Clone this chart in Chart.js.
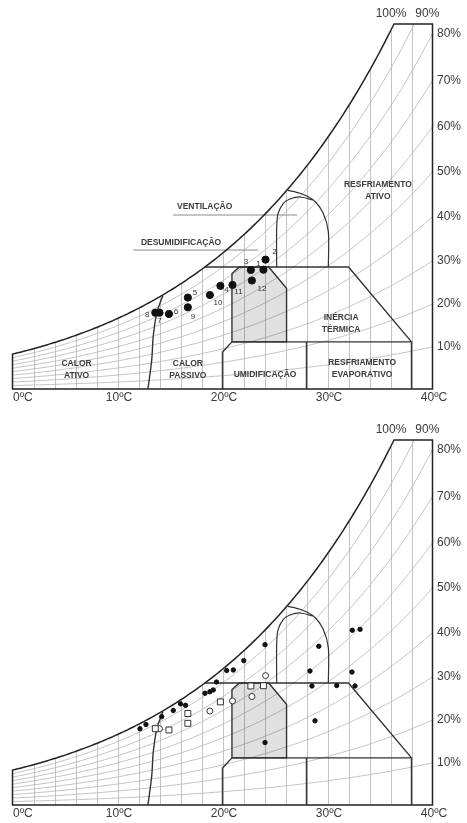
<!DOCTYPE html>
<html>
<head>
<meta charset="utf-8">
<script src="https://cdn.jsdelivr.net/npm/chart.js@4.4.1/dist/chart.umd.min.js"></script>
<style>
  html, body { margin: 0; padding: 0; background: #fff; }
  canvas { display: block; }
</style>
</head>
<body>
<canvas id="chartTop" width="467" height="416"></canvas>
<canvas id="chartBottom" width="467" height="407"></canvas>
<script>
// axes
const tempTicks = [0, 10, 20, 30, 40];
const rhLevels = [10, 20, 30, 40, 50, 60, 70, 80, 90];
const rhRightLabels = [10, 20, 30, 40, 50, 60, 70, 80];
const rhTopLabels = [100, 90];
const W_MAX = 39.5;   // g/kg at top of chart
const T_MAX = 40;

// monthly means (ºC, g/kg)
const months = ['1', '2', '3', '4', '5', '6', '7', '8', '9', '10', '11', '12'];
const meanTemp = [23.9, 24.1, 22.7, 19.8, 16.7, 14.9, 14.0, 13.6, 16.7, 18.8, 20.95, 22.8];
const meanHum = [12.91, 14.0, 12.88, 11.16, 9.9, 8.12, 8.26, 8.26, 8.84, 10.17, 11.26, 11.74];
const meanStyle = ['rect', 'circle', 'rect', 'rect', 'rect', 'rect', 'circle', 'rect', 'rect', 'circle', 'circle', 'circle'];

// bottom chart, other readings
const extraTemp = [32.36, 33.1, 29.17, 24.05, 22.03, 20.4, 21.03, 28.33, 32.33, 19.43, 18.33, 18.8,
                   19.12, 28.52, 30.88, 32.62, 16.0, 16.48, 15.31, 14.21, 12.71, 12.14, 28.81, 24.05];
const extraHum = [18.91, 19.01, 17.18, 17.35, 15.62, 14.56, 14.61, 14.5, 14.39, 13.31, 12.09, 12.26,
                  12.45, 12.88, 12.93, 12.88, 10.95, 10.79, 10.23, 9.56, 8.71, 8.25, 9.11, 6.76];

// zone boundaries [ºC, g/kg]
const comfortZone = [[20.9, 5.1], [20.9, 12.5], [21.6, 13.2], [24.4, 13.2], [26.1, 10.9], [26.1, 5.1], [20.9, 5.1]];
const lowerBand = [[20, 0], [20, 4.0], [20.9, 5.1], [38, 5.1], [38, 0]];
const evapDivider = [[28, 0], [28, 5.1]];
const inerciaLine = [[18.3, 13.2], [32, 13.2], [38, 5.1]];
const heatingCurve = [[12.9, 0], [13.26, 3.14], [13.4, 5.66], [13.73, 8.19], [14.1, 9.45], [14.33, 10.1]];
const ventInner = [[25.16, 13.2], [25.16, 17.56], [25.3, 19.0], [25.8, 20.1], [26.43, 20.56], [27.38, 20.78], [28.6, 20.45]];
const ventOuter = [[26.2, 21.5], [27.38, 21.18], [28.65, 20.45], [29.6, 19.0], [30.08, 17.0], [30.08, 13.2]];
const ventLeader = [[15.3, 18.83], [27.1, 18.83]];
const desumLeader = [[11.5, 15.04], [23.4, 15.04]];

const zoneLabels = [
  { lines: ['RESFRIAMENTO', 'ATIVO'], t: 34.8, w: 22.1 },
  { lines: ['INÉRCIA', 'TÉRMICA'], t: 31.3, w: 7.7 },
  { lines: ['CALOR', 'ATIVO'], t: 6.1, w: 2.7 },
  { lines: ['CALOR', 'PASSIVO'], t: 16.7, w: 2.7 },
  { lines: ['UMIDIFICAÇÃO'], t: 24.05, w: 1.6 },
  { lines: ['RESFRIAMENTO', 'EVAPORATIVO'], t: 33.3, w: 2.9 },
  { lines: ['VENTILAÇÃO'], t: 18.3, w: 19.7 },
  { lines: ['DESUMIDIFICAÇÃO'], t: 16.05, w: 15.8 }
];
// where each month number sits relative to its dot (px)
const monthLabelOffset = [[-5, -6], [9, -8], [-5, -8], [6, 4], [7, -5], [7, -2], [0, 8], [-8, 2], [5, 9], [8, 8], [6, 7], [10, 8]];

const PRESSURE = 101.325;
function satPressure(t) { return 0.61078 * Math.exp(17.27 * t / (t + 237.3)); }
function humidityRatio(t, rh) {
  const p = rh / 100 * satPressure(t);
  return 622 * p / (PRESSURE - p);
}
function tempAtRatio(w, rh) {
  let lo = -10, hi = 60;
  for (let i = 0; i < 50; i++) {
    const mid = (lo + hi) / 2;
    if (humidityRatio(mid, rh) < w) lo = mid; else hi = mid;
  }
  return lo;
}

const toXY = pairs => pairs.map(([t, w]) => ({ x: t, y: w }));
const lineSet = (pairs, extra) => Object.assign({
  data: toXY(pairs), showLine: true, fill: false, pointRadius: 0,
  borderColor: '#333', borderWidth: 1.4, order: 1
}, extra);

const psychroPlugin = {
  id: 'psychro',
  beforeDatasetsDraw(chart) {
    const { ctx, chartArea: a, scales: { x, y } } = chart;
    ctx.save();
    ctx.beginPath();
    ctx.rect(a.left, a.top, a.right - a.left, a.bottom - a.top);
    ctx.clip();
    ctx.strokeStyle = '#b4b4b4';
    ctx.lineWidth = 0.8;
    for (let t = 2; t < T_MAX; t += 2) {
      const top = Math.min(humidityRatio(t, 100), W_MAX);
      const px = Math.round(x.getPixelForValue(t)) + 0.5;
      ctx.beginPath();
      ctx.moveTo(px, y.getPixelForValue(0));
      ctx.lineTo(px, y.getPixelForValue(top));
      ctx.stroke();
    }
    rhLevels.forEach(rh => {
      ctx.beginPath();
      for (let t = 0; t <= T_MAX + 0.001; t += 0.25) {
        const px = x.getPixelForValue(t), py = y.getPixelForValue(humidityRatio(t, rh));
        if (t === 0) ctx.moveTo(px, py); else ctx.lineTo(px, py);
      }
      ctx.stroke();
    });
    ctx.restore();
  },
  afterDatasetsDraw(chart, args, opts) {
    const { ctx, chartArea: a, scales: { x, y } } = chart;
    ctx.save();
    // frame and saturation curve
    ctx.strokeStyle = '#222';
    ctx.lineWidth = 1.5;
    const tSat = tempAtRatio(W_MAX, 100);
    ctx.beginPath();
    ctx.moveTo(x.getPixelForValue(0), y.getPixelForValue(0));
    for (let t = 0; t < tSat; t += 0.25) ctx.lineTo(x.getPixelForValue(t), y.getPixelForValue(humidityRatio(t, 100)));
    ctx.lineTo(x.getPixelForValue(tSat), y.getPixelForValue(W_MAX));
    ctx.lineTo(x.getPixelForValue(T_MAX), y.getPixelForValue(W_MAX));
    ctx.lineTo(x.getPixelForValue(T_MAX), y.getPixelForValue(0));
    ctx.closePath();
    ctx.stroke();

    ctx.fillStyle = '#3a3a3a';
    ctx.font = '12px "Liberation Sans", Arial, sans-serif';
    ctx.textBaseline = 'middle';
    // temperature labels
    tempTicks.forEach((t, i) => {
      ctx.textAlign = i === 0 ? 'left' : 'center';
      ctx.fillText(t + 'ºC', x.getPixelForValue(t) + (i === 0 ? 0.5 : 1.5), a.bottom + 9);
    });
    // relative humidity labels
    ctx.textAlign = 'left';
    rhRightLabels.forEach(rh => {
      ctx.fillText(rh + '%', a.right + 4.5, y.getPixelForValue(humidityRatio(T_MAX, rh)));
    });
    ctx.textAlign = 'center';
    rhTopLabels.forEach((rh, i) => {
      const px = x.getPixelForValue(tempAtRatio(W_MAX, rh));
      ctx.fillText(rh + '%', px + (i === 0 ? -3 : 13), a.top - 10);
    });

    if (opts.zoneText) {
      ctx.font = 'bold 8.5px "Liberation Sans", Arial, sans-serif';
      ctx.fillStyle = '#3c3c3c';
      zoneLabels.forEach(z => {
        z.lines.forEach((s, k) => ctx.fillText(s, x.getPixelForValue(z.t), y.getPixelForValue(z.w) + k * 12));
      });
    }
    if (opts.monthText) {
      ctx.font = '8px "Liberation Sans", Arial, sans-serif';
      ctx.fillStyle = '#333';
      months.forEach((m, i) => {
        const [dx, dy] = monthLabelOffset[i];
        ctx.fillText(m, x.getPixelForValue(meanTemp[i]) + dx, y.getPixelForValue(meanHum[i]) + dy);
      });
    }
    ctx.restore();
  }
};

function zoneSets(withLeaders) {
  const sets = [
    lineSet(comfortZone, { fill: 'shape', backgroundColor: 'rgba(0,0,0,0.12)', order: 2 }),
    lineSet(lowerBand),
    lineSet(evapDivider),
    lineSet(inerciaLine),
    lineSet(heatingCurve, { tension: 0.3 }),
    lineSet(ventInner, { tension: 0.3, borderWidth: 1.2 }),
    lineSet(ventOuter, { tension: 0.3, borderWidth: 1.2 })
  ];
  if (withLeaders) {
    sets.push(lineSet(ventLeader, { borderColor: '#8a8a8a', borderWidth: 1 }));
    sets.push(lineSet(desumLeader, { borderColor: '#8a8a8a', borderWidth: 1 }));
  }
  return sets;
}

function makeChart(id, datasets, padBottom, opts) {
  return new Chart(document.getElementById(id), {
    type: 'scatter',
    data: { datasets },
    options: {
      responsive: false,
      animation: false,
      events: [],
      layout: { padding: { left: 12.5, right: 34.5, top: 24, bottom: padBottom } },
      scales: {
        x: { type: 'linear', min: 0, max: T_MAX, display: false },
        y: { type: 'linear', min: 0, max: W_MAX, display: false }
      },
      plugins: { legend: { display: false }, tooltip: { enabled: false }, psychro: opts }
    },
    plugins: [psychroPlugin]
  });
}

const meanPoints = meanTemp.map((t, i) => ({ x: t, y: meanHum[i] }));
const extraPoints = extraTemp.map((t, i) => ({ x: t, y: extraHum[i] }));

makeChart('chartTop', [
  { data: meanPoints, pointRadius: 3.6, pointBackgroundColor: '#111', pointBorderColor: '#111', order: 0 },
  ...zoneSets(true)
], 27, { zoneText: true, monthText: true });

makeChart('chartBottom', [
  { data: extraPoints, pointRadius: 2.2, pointBackgroundColor: '#111', pointBorderColor: '#111', order: 0 },
  { data: meanPoints, pointStyle: meanStyle, pointRadius: meanStyle.map(s => s === 'rect' ? 4.2 : 3),
    pointBackgroundColor: '#fff', pointBorderColor: '#333', pointBorderWidth: 1, order: 0 },
  ...zoneSets(false)
], 18, { zoneText: false, monthText: false });
</script>
</body>
</html>
